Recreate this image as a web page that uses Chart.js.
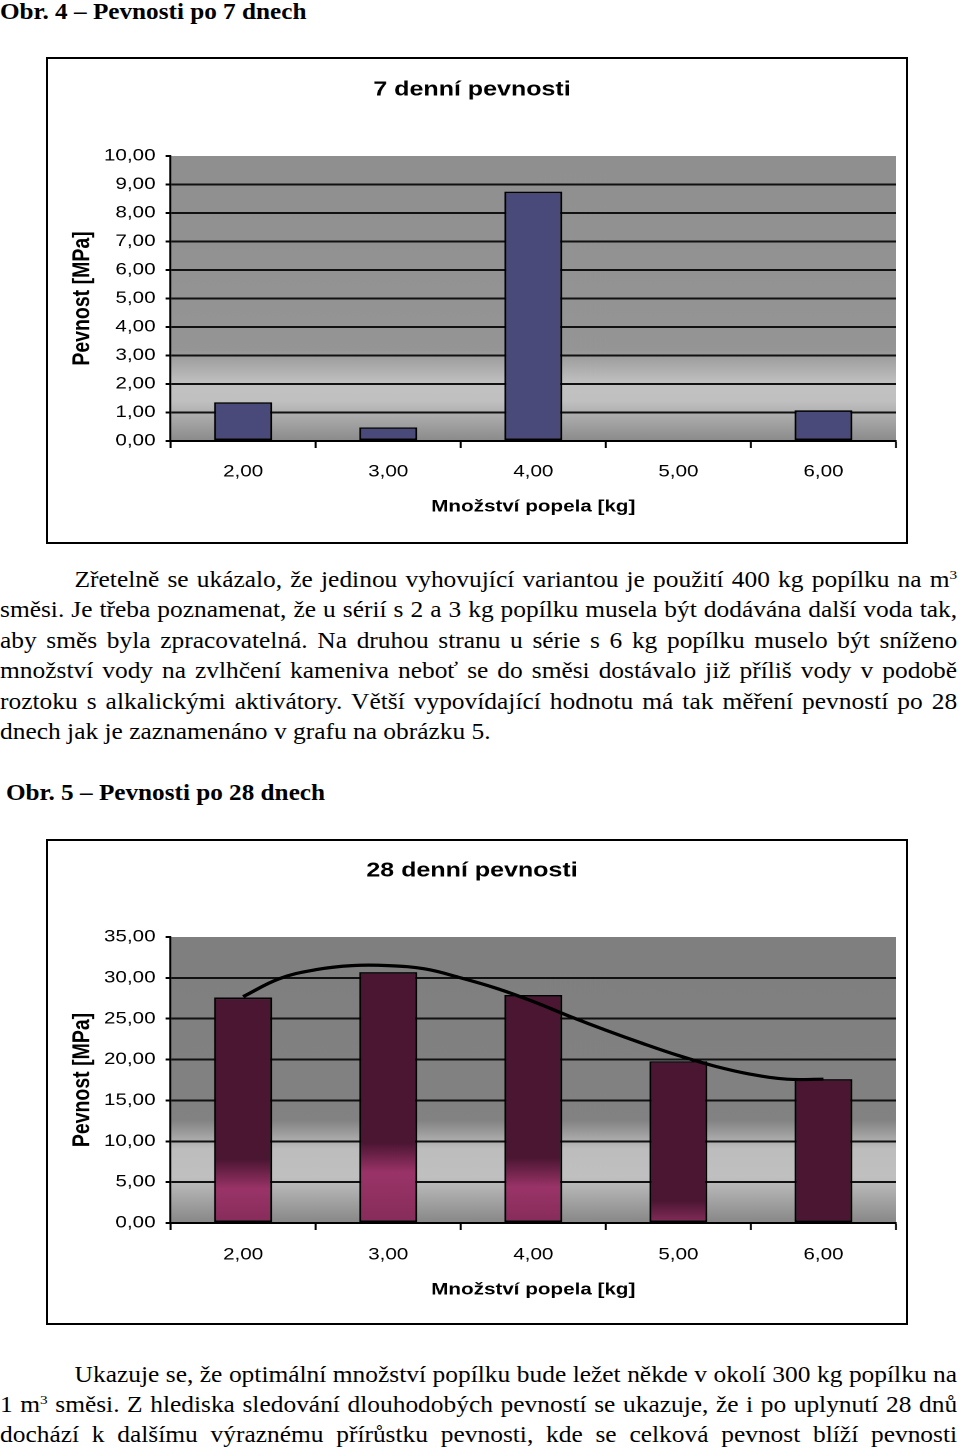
<!DOCTYPE html>
<html lang="cs">
<head>
<meta charset="utf-8">
<title>Pevnosti po 7 a 28 dnech</title>
<script src="https://cdn.jsdelivr.net/npm/chart.js@4/dist/chart.umd.min.js"></script>
<style>
  html, body { margin: 0; padding: 0; background: #fff; }
  body { width: 960px; height: 1450px; position: relative; overflow: hidden;
         font-family: "Liberation Serif", "Times New Roman", serif; color: #000; }
  .heading { position: absolute; font-weight: bold; font-size: 24px; line-height: 24px;
             white-space: nowrap; transform: scaleX(1.05); transform-origin: 0 0; }
  .para { position: absolute; left: 0; width: 847px; font-size: 22.5px;
          transform: scaleX(1.13); transform-origin: 0 0; }
  .para div { height: 30.4px; line-height: 30.4px; text-align: justify; text-align-last: justify; }
  .para.tight div { height: 30.2px; line-height: 30.2px; }
  .para div.indent { padding-left: 66px; }
  .para div.last { text-align: left; text-align-last: left; }
  sup { font-size: 0.6em; line-height: 0; vertical-align: 0.62em; }
  .box { position: absolute; left: 46px; width: 858px; border: 2px solid #000; }
  .box canvas { position: absolute; left: 0; top: 0; transform: scaleX(1.2507); transform-origin: 0 0; }
</style>
</head>
<body>

<div class="heading" style="left:0; top:-1px">Obr. 4 – Pevnosti po 7 dnech</div>

<div class="box" style="top:57px; height:483px">
  <canvas id="chart7" width="686" height="483"></canvas>
</div>

<div class="para" style="top:565px">
  <div class="indent">Zřetelně se ukázalo, že jedinou vyhovující variantou je použití 400 kg popílku na m<sup>3</sup></div>
  <div>směsi. Je třeba poznamenat, že u sérií s 2 a 3 kg popílku musela být dodávána další voda tak,</div>
  <div>aby směs byla zpracovatelná. Na druhou stranu u série s&nbsp;6 kg popílku muselo být sníženo</div>
  <div>množství vody na zvlhčení kameniva neboť se do směsi dostávalo již příliš vody v podobě</div>
  <div>roztoku s&nbsp;alkalickými aktivátory. Větší vypovídající hodnotu má tak měření pevností po 28</div>
  <div class="last">dnech jak je zaznamenáno v grafu na obrázku 5.</div>
</div>

<div class="heading" style="left:6px; top:780px">Obr. 5 – Pevnosti po 28 dnech</div>

<div class="box" style="top:839px; height:482px">
  <canvas id="chart28" width="686" height="482"></canvas>
</div>

<div class="para tight" style="top:1360px">
  <div class="indent">Ukazuje se, že optimální množství popílku bude ležet někde v okolí 300 kg popílku na</div>
  <div>1 m<sup>3</sup> směsi. Z hlediska sledování dlouhodobých pevností se ukazuje, že i po uplynutí 28 dnů</div>
  <div>dochází k&nbsp;dalšímu výraznému přírůstku pevnosti, kde se celková pevnost blíží pevnosti</div>
</div>

<script>
// categories - amount of ash [kg]
const kgLabels = ['2,00', '3,00', '4,00', '5,00', '6,00'];

// strength after 7 days [MPa] (no bar for 5 kg)
const strength7 = [1.36, 0.48, 8.75, null, 1.08];

// strength after 28 days [MPa]
const strength28 = [27.6, 30.7, 27.9, 19.8, 17.6];

// trend line of the 28 day chart, every 0.25 kg
const trendKg = [2, 2.25, 2.5, 2.75, 3, 3.25, 3.5, 3.75, 4, 4.25, 4.5, 4.75, 5, 5.25, 5.5, 5.75, 6];
const trend28 = [27.7, 29.9, 31.0, 31.5, 31.5, 31.1, 30.0, 28.7, 27.1, 25.3, 23.6, 22.0, 20.5, 19.2, 18.2, 17.6, 17.6];

// value axes
const yMax7 = 10, yStep7 = 1;
const yMax28 = 35, yStep28 = 5;

Chart.defaults.font.family = '"Liberation Sans", Arial, sans-serif';
Chart.defaults.color = '#000';

function fmt(v) {
    return v.toFixed(2).replace('.', ',');
}

// gray gradient behind the plot area (Excel style)
function plotBackground(stops) {
    return {
        id: 'plotBackground',
        beforeDraw(chart) {
            const a = chart.chartArea;
            const ctx = chart.ctx;
            const g = ctx.createLinearGradient(0, a.top, 0, a.bottom);
            stops.forEach(s => g.addColorStop(s[0], s[1]));
            ctx.save();
            ctx.fillStyle = g;
            ctx.fillRect(a.left, a.top, a.right - a.left, a.bottom - a.top);
            ctx.restore();
        }
    };
}

function baseOptions(cfg) {
    return {
        responsive: false,
        animation: false,
        devicePixelRatio: 2,
        layout: { padding: { left: 0, right: 8, top: 0, bottom: 0 } },
        plugins: {
            legend: { display: false },
            tooltip: { enabled: false },
            title: {
                display: true,
                text: cfg.title,
                color: '#000',
                font: { size: 20, weight: 'bold' },
                padding: { top: cfg.titleTop, bottom: cfg.titleBottom }
            }
        },
        scales: {
            x: {
                grid: { drawOnChartArea: false, drawTicks: true, tickLength: 7, tickColor: '#000', tickWidth: 1.6, offset: true },
                border: { color: '#000', width: 2 },
                ticks: { font: { size: 16.5 }, padding: cfg.xPad, color: '#000' },
                title: {
                    display: true,
                    text: 'Množství popela [kg]',
                    color: '#000',
                    font: { size: 16.5, weight: 'bold' },
                    padding: { top: 0, bottom: cfg.xTitleBottom }
                },
                afterFit: s => { s.height = cfg.xHeight; }
            },
            y: {
                min: 0,
                max: cfg.yMax,
                grid: {
                    color: c => (c.tick && c.tick.value === cfg.yMax) ? 'rgba(0,0,0,0)' : '#111',
                    lineWidth: 2,
                    tickLength: 4,
                    tickColor: '#000',
                    tickWidth: 2
                },
                border: { color: '#000', width: 1.6 },
                ticks: { stepSize: cfg.yStep, font: { size: 16.5 }, padding: 8, color: '#000', callback: v => fmt(v) },
                title: {
                    display: true,
                    text: 'Pevnost [MPa]',
                    color: '#000',
                    font: { size: 19.5, weight: 'bold' },
                    padding: { top: 16, bottom: 0 }
                },
                afterFit: s => { s.width = 98; }
            }
        }
    };
}

// 7 day chart
new Chart(document.getElementById('chart7'), {
    type: 'bar',
    data: {
        labels: kgLabels,
        datasets: [{
            data: strength7,
            backgroundColor: '#4a4a7a',
            borderColor: '#000',
            borderWidth: 1.6,
            borderSkipped: false,
            barPercentage: 0.4,
            categoryPercentage: 1
        }]
    },
    options: baseOptions({
        title: '7 denní pevnosti', titleTop: 19, titleBottom: 54,
        xPad: 14, xTitleBottom: 25, xHeight: 101,
        yMax: yMax7, yStep: yStep7
    }),
    plugins: [plotBackground([[0, '#8f8f8f'], [0.68, '#959595'], [0.8, '#c2c2c2'], [0.86, '#c0c0c0'], [1, '#8a8a8a']])]
});

// maroon bars with the pink glow near the base
function hex(c) {
    return [parseInt(c.slice(1, 3), 16), parseInt(c.slice(3, 5), 16), parseInt(c.slice(5, 7), 16)];
}
function mix(c1, c2, t) {
    const a = hex(c1), b = hex(c2);
    return 'rgb(' + a.map((v, i) => Math.round(v + (b[i] - v) * t)).join(',') + ')';
}
function barFill28(ctx) {
    const dark = '#4a1632', pink = '#9a3468', pinkLow = '#862c5a';
    const chart = ctx.chart;
    const y = chart.scales.y;
    if (!chart.chartArea || !y || !ctx.parsed) return dark;
    const top = y.getPixelForValue(ctx.parsed.y);
    const bottom = y.getPixelForValue(0);
    const h = bottom - top;
    const glow = (h - 150) * 0.65;
    if (glow <= 0) return dark;
    const mid = bottom - glow;
    const a = (mid - 15 - top) / h;
    const b = (mid + 15 - top) / h;
    const g = chart.ctx.createLinearGradient(0, top, 0, bottom);
    g.addColorStop(0, dark);
    g.addColorStop(Math.max(0, a), dark);
    if (b < 1) {
        g.addColorStop(b, pink);
        g.addColorStop(1, pinkLow);
    } else {
        g.addColorStop(1, mix(dark, pink, (1 - a) / (b - a)));
    }
    return g;
}

const opts28 = baseOptions({
    title: '28 denní pevnosti', titleTop: 18, titleBottom: 54,
    xPad: 15, xTitleBottom: 23, xHeight: 100,
    yMax: yMax28, yStep: yStep28
});
// hidden linear axis so the trend line can run between the categories
opts28.scales.xl = { type: 'linear', min: 1.5, max: 6.5, offset: false, display: false, grid: { offset: false } };

new Chart(document.getElementById('chart28'), {
    type: 'bar',
    data: {
        labels: kgLabels,
        datasets: [
            {
                type: 'line',
                data: trendKg.map((x, i) => ({ x: x, y: trend28[i] })),
                xAxisID: 'xl',
                yAxisID: 'y',
                borderColor: '#000',
                borderWidth: 3.2,
                pointRadius: 0,
                tension: 0.4,
                fill: false,
                order: 0
            },
            {
                data: strength28,
                xAxisID: 'x',
                yAxisID: 'y',
                grouped: false,
                backgroundColor: barFill28,
                borderColor: '#000',
                borderWidth: 1.6,
                borderSkipped: false,
                barPercentage: 0.4,
                categoryPercentage: 1,
                order: 1
            }
        ]
    },
    options: opts28,
    plugins: [plotBackground([[0, '#7f7f7f'], [0.64, '#828282'], [0.74, '#bdbdbd'], [0.84, '#c0c0c0'], [1, '#878787']])]
});
</script>
</body>
</html>
